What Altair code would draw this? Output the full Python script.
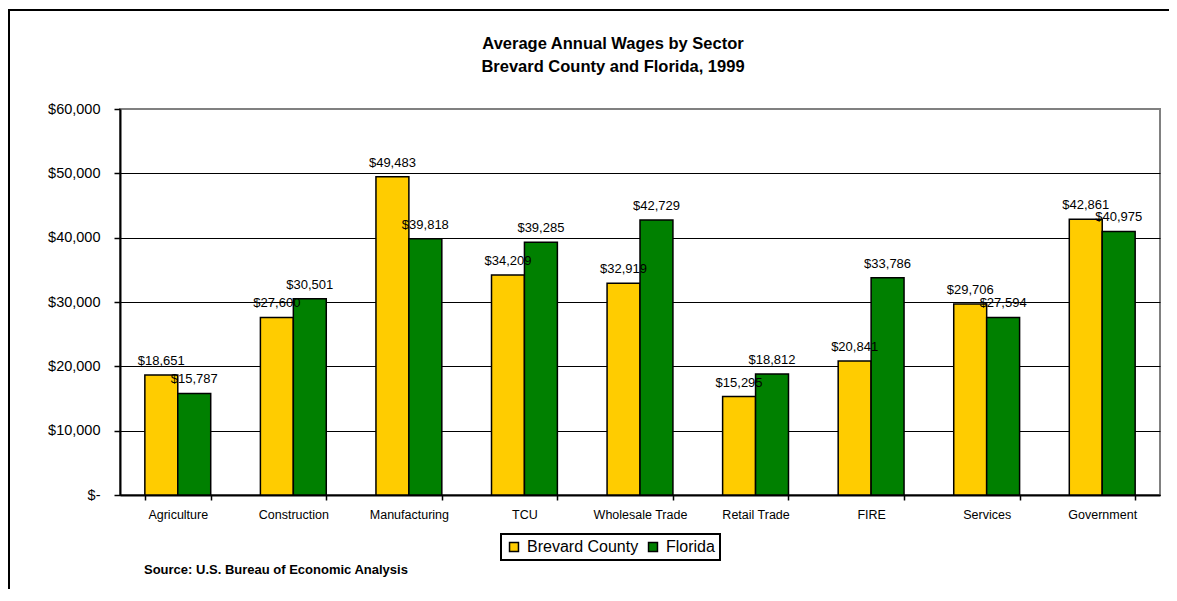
import altair as alt
import pandas as pd

sectors = ["Agriculture", "Construction", "Manufacturing", "TCU", "Wholesale Trade",
           "Retail Trade", "FIRE", "Services", "Government"]
brevard = [18651, 27600, 49483, 34209, 32919, 15295, 20841, 29706, 42861]
florida = [15787, 30501, 39818, 39285, 42729, 18812, 33786, 27594, 40975]
series = ["Brevard County", "Florida"]
colors = ["#FFCC00", "#008000"]
y_ticks = [0, 10000, 20000, 30000, 40000, 50000, 60000]

rows = []
for s, b, f in zip(sectors, brevard, florida):
    rows.append({"sector": s, "series": series[0], "value": b})
    rows.append({"sector": s, "series": series[1], "value": f})
df = pd.DataFrame(rows)

FONT = "Liberation Sans"

base = alt.Chart(df).transform_calculate(
    label="'$' + format(datum.value, ',')"
)

x_enc = alt.X(
    "sector:N", sort=sectors,
    scale=alt.Scale(paddingInner=0.43, paddingOuter=0.215),
    axis=alt.Axis(title=None, labelAngle=0, labelFontSize=12.5, labelFont=FONT,
                  labelColor="black", tickBand="extent", tickSize=5, tickColor="black",
                  tickWidth=1.5, domainColor="black", domainWidth=2, labelPadding=8,
                  grid=False),
)
xoff = alt.XOffset("series:N", sort=series, scale=alt.Scale(paddingInner=0, paddingOuter=0))
y_enc = alt.Y(
    "value:Q", scale=alt.Scale(domain=[0, 60000]),
    axis=alt.Axis(title=None, values=y_ticks,
                  labelExpr="datum.value == 0 ? '$-  ' : '$' + format(datum.value, ',')",
                  labelFontSize=14.5, labelFont=FONT, labelColor="black",
                  tickSize=6, tickColor="black", tickWidth=1.5, labelPadding=14,
                  domainColor="black", domainWidth=2,
                  gridColor={"condition": {"test": "datum.value >= 60000", "value": "#808080"},
                             "value": "black"},
                  gridWidth=1),
)

bars = base.mark_bar(stroke="black", strokeWidth=1.5).encode(
    x=x_enc, xOffset=xoff, y=y_enc,
    color=alt.Color("series:N", sort=series,
                    scale=alt.Scale(domain=series, range=colors),
                    legend=alt.Legend(orient="none", legendX=381, legendY=425,
                                      direction="horizontal", title=None,
                                      symbolType="square", symbolSize=80,
                                      symbolStrokeColor="black", symbolStrokeWidth=1.5,
                                      labelFontSize=16, labelFont=FONT, labelColor="black",
                                      strokeColor="black", padding=5,
                                      columnPadding=6, labelOffset=5)),
)

labels = base.mark_text(baseline="bottom", dy=-7, fontSize=13, font=FONT, color="black").encode(
    x=alt.X("sector:N", sort=sectors), xOffset=alt.XOffset("series:N", sort=series),
    y="value:Q", text="label:N",
)

one = pd.DataFrame({"a": [0]})
frame_top = alt.Chart(one).mark_rule(color="black", strokeWidth=2).encode(
    x=alt.value(-111), x2=alt.value(1060), y=alt.value(-99))
frame_left = alt.Chart(one).mark_rule(color="black", strokeWidth=2).encode(
    x=alt.value(-111), y=alt.value(-100), y2=alt.value(520))

title1 = alt.Chart(one).mark_text(font=FONT, fontSize=16.5, fontWeight="bold", color="black",
                                  align="center", baseline="middle").encode(
    x=alt.value(493), y=alt.value(-65), text=alt.value("Average Annual Wages by Sector"))
title2 = alt.Chart(one).mark_text(font=FONT, fontSize=16.5, fontWeight="bold", color="black",
                                  align="center", baseline="middle").encode(
    x=alt.value(493), y=alt.value(-42), text=alt.value("Brevard County and Florida, 1999"))
source = alt.Chart(one).mark_text(font=FONT, fontSize=13, fontWeight="bold", color="black",
                                  align="left", baseline="middle").encode(
    x=alt.value(24), y=alt.value(461), text=alt.value("Source:  U.S. Bureau of Economic Analysis"))

chart = alt.layer(bars, labels, frame_top, frame_left, title1, title2, source).properties(
    width=1040, height=386,
    autosize=alt.AutoSizeParams(type="none"),
    padding={"left": 112, "top": 101, "right": 9, "bottom": 94},
    background="white",
).configure_view(stroke="#808080", strokeWidth=2).configure_legend(strokeWidth=2)

chart.save("out.html", embed_options={"renderer": "svg", "actions": False})
